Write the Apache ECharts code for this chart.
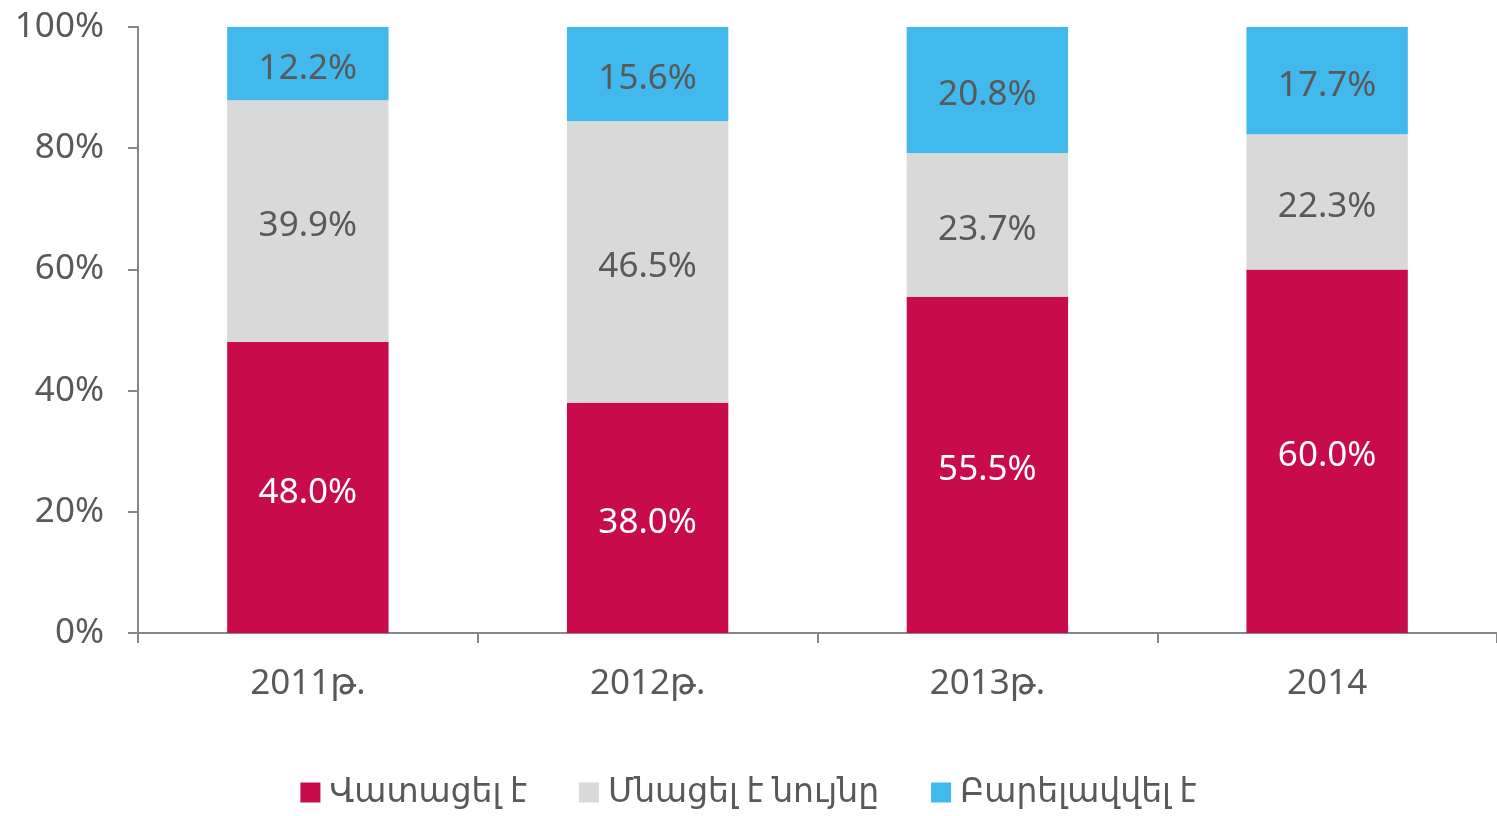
<!DOCTYPE html>
<html>
<head>
<meta charset="utf-8">
<script src="https://cdn.jsdelivr.net/npm/echarts@6/dist/echarts.min.js"></script>
<style>
    html, body { margin: 0; padding: 0; background: #fff; }
    #chart { width: 1497px; height: 816px; }
</style>
</head>
<body>
<div id="chart"></div>
<script>
    var years = ['2011թ.', '2012թ.', '2013թ.', '2014'];
    var worse = [48.0, 38.0, 55.5, 60.0];
    var same = [39.9, 46.5, 23.7, 22.3];
    var better = [12.2, 15.6, 20.8, 17.7];
    var seriesNames = ['Վատացել է', 'Մնացել է նույնը', 'Բարելավվել է'];

    var font = "'Noto Sans', 'DejaVu Sans', sans-serif";
    var chart = echarts.init(document.getElementById('chart'));

    function label(color) {
        return {
            show: true,
            position: 'inside',
            offset: [0, 5],
            color: color,
            fontSize: 35,
            fontFamily: font,
            formatter: function (p) { return p.value.toFixed(1) + '%'; }
        };
    }

    var option = {
        animation: false,
        textStyle: { fontFamily: font },
        grid: { left: 138, right: 0, top: 27, bottom: 183 },
        legend: {
            bottom: 2,
            left: 'center',
            itemWidth: 20,
            itemHeight: 20,
            itemGap: 52,
            icon: 'rect',
            textStyle: { fontSize: 33, color: '#595959', fontFamily: font, padding: [0, 0, 0, 4] },
            data: seriesNames
        },
        xAxis: {
            type: 'category',
            data: years,
            axisLine: { lineStyle: { color: '#868686', width: 2 } },
            axisTick: { show: true, length: 10, lineStyle: { color: '#868686', width: 2 } },
            axisLabel: { fontSize: 35, color: '#595959', margin: 34, fontFamily: font }
        },
        yAxis: {
            type: 'value',
            min: 0,
            max: 100,
            interval: 20,
            splitLine: { show: false },
            axisLine: { show: true, lineStyle: { color: '#868686', width: 2 } },
            axisTick: { show: true, length: 10, lineStyle: { color: '#868686', width: 2 } },
            axisLabel: { fontSize: 35, color: '#595959', margin: 34, fontFamily: font, formatter: '{value}%' }
        },
        series: [
            {
                name: seriesNames[0],
                type: 'bar',
                stack: 'total',
                barWidth: '47.5%',
                itemStyle: { color: '#C80C4B' },
                label: label('#ffffff'),
                data: worse
            },
            {
                name: seriesNames[1],
                type: 'bar',
                stack: 'total',
                itemStyle: { color: '#D9D9D9' },
                label: label('#595959'),
                data: same
            },
            {
                name: seriesNames[2],
                type: 'bar',
                stack: 'total',
                itemStyle: { color: '#41B9EC' },
                label: label('#595959'),
                data: better
            }
        ]
    };
    chart.setOption(option);
</script>
</body>
</html>
